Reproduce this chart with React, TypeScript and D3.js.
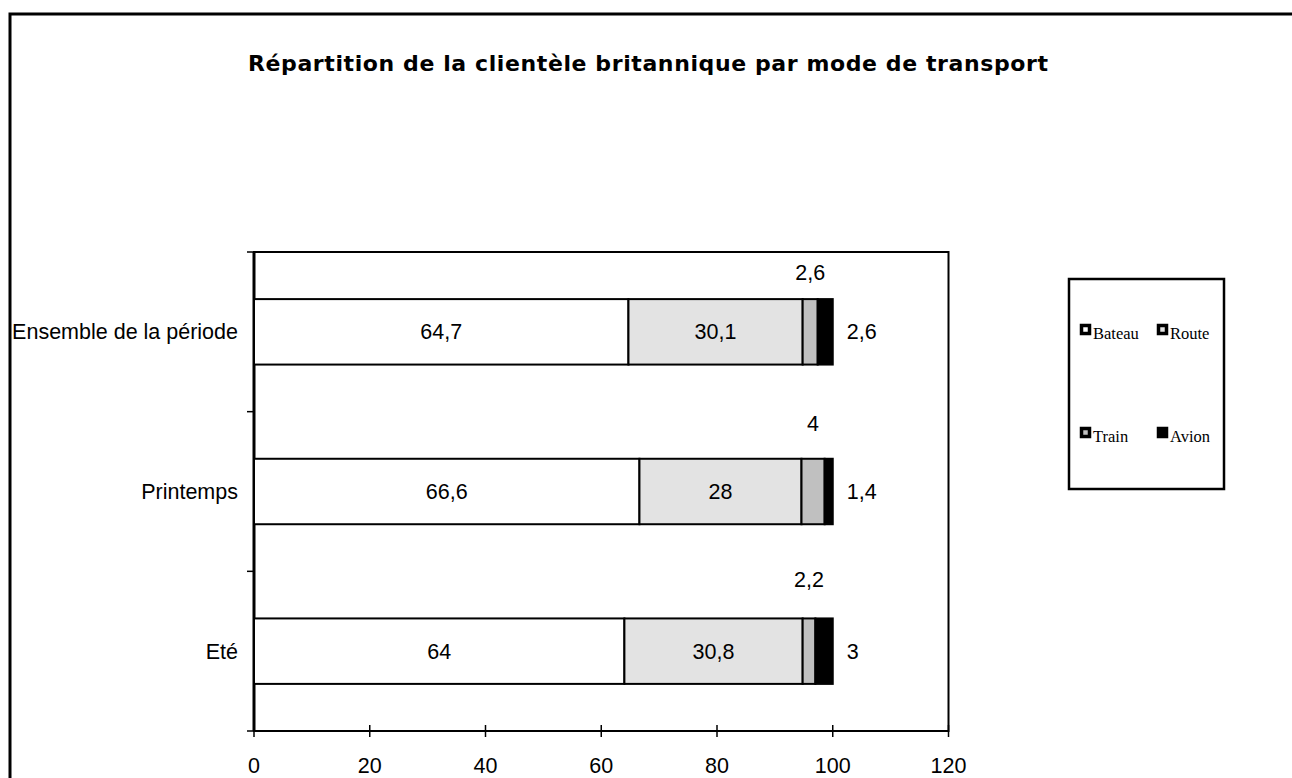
import React from "react";
import * as d3 from "d3";

const categories = ["Ensemble de la période", "Printemps", "Eté"];
const seriesNames = ["Bateau", "Route", "Train", "Avion"];
const bateau = [64.7, 66.6, 64];
const route = [30.1, 28, 30.8];
const train = [2.6, 4, 2.2];
const avion = [2.6, 1.4, 3];
const xTicks = [0, 20, 40, 60, 80, 100, 120];
const colors = ["#ffffff", "#e3e3e3", "#c0c0c0", "#000000"];
const title = "Répartition de la clientèle britannique par mode de transport";

const fmt = (v: number) => String(v).replace(".", ",");

export default function App() {
  const W = 1292, H = 778;
  const left = 254, right = 948.5, top = 252, bottom = 731;
  const x = d3.scaleLinear().domain([0, 120]).range([left, right]);
  const y = d3.scaleBand<string>().domain(categories).range([top, bottom]).paddingInner(0.59).paddingOuter(0.295);
  const step = y.step();
  const values = [bateau, route, train, avion];
  const rows = categories.map((c, i) => {
    let acc = 0;
    const segs = values.map((arr, s) => {
      const x0 = acc;
      acc += arr[i];
      return { s, x0, x1: acc, v: arr[i] };
    });
    return { c, i, segs };
  });
  const trainDy = [-27, -35, -39];
  const bandEdges = d3.range(categories.length + 1).map((k) => top + k * step);
  const font = "'Liberation Sans', Arial, sans-serif";
  const fs = 21.5;

  return (
    <svg width={W} height={H} style={{ position: "absolute", left: 0, top: 0, display: "block", background: "#fff" }}>
      <rect x={10} y={14} width={1400} height={900} fill="#fff" stroke="#000" strokeWidth={3} />
      <text x={648} y={71} textAnchor="middle" fontFamily="'DejaVu Sans', sans-serif" fontWeight="bold" fontSize={22}
        textLength={800} lengthAdjust="spacing">{title}</text>

      <rect x={left} y={top} width={right - left} height={bottom - top} fill="none" stroke="#000" strokeWidth={2} />
      <line x1={left} x2={left} y1={top} y2={bottom} stroke="#000" strokeWidth={3} />

      {bandEdges.map((yy, k) => (
        <line key={"yt" + k} x1={247} x2={left} y1={yy} y2={yy} stroke="#000" strokeWidth={1.5} />
      ))}
      {xTicks.map((t) => (
        <g key={"xt" + t}>
          <line x1={x(t)} x2={x(t)} y1={bottom - 6} y2={bottom + 6} stroke="#000" strokeWidth={1.5} />
          <text x={x(t)} y={773} textAnchor="middle" fontFamily={font} fontSize={fs}>{t}</text>
        </g>
      ))}

      {rows.map((r) => {
        const by = y(r.c)!;
        const bh = y.bandwidth();
        const cy = by + bh / 2;
        return (
          <g key={r.c}>
            <text x={238} y={cy + 7.5} textAnchor="end" fontFamily={font} fontSize={fs}>{r.c}</text>
            {r.segs.map((sg) => (
              <rect key={sg.s} x={x(sg.x0)} y={by} width={x(sg.x1) - x(sg.x0)} height={bh}
                fill={colors[sg.s]} stroke="#000" strokeWidth={2} />
            ))}
            {r.segs.map((sg) => {
              if (sg.s < 2) {
                return <text key={"l" + sg.s} x={(x(sg.x0) + x(sg.x1)) / 2} y={cy + 7.5} textAnchor="middle" fontFamily={font} fontSize={fs}>{fmt(sg.v)}</text>;
              } else if (sg.s === 2) {
                return <text key={"l" + sg.s} x={(x(sg.x0) + x(sg.x1)) / 2} y={by + trainDy[r.i] + 7.5} textAnchor="middle" fontFamily={font} fontSize={fs}>{fmt(sg.v)}</text>;
              }
              return <text key={"l" + sg.s} x={x(sg.x1) + 14} y={cy + 7.5} textAnchor="start" fontFamily={font} fontSize={fs}>{fmt(sg.v)}</text>;
            })}
          </g>
        );
      })}

      <rect x={1069} y={279} width={155} height={210} fill="#fff" stroke="#000" strokeWidth={2.5} />
      {seriesNames.map((n, k) => {
        const col = k % 2, row = Math.floor(k / 2);
        const sx = 1081.5 + col * 77;
        const sy = 325.5 + row * 103;
        return (
          <g key={n}>
            <rect x={sx} y={sy} width={8} height={8} fill={colors[k]} stroke="#000" strokeWidth={3.5} />
            <text x={sx + 11.5} y={sy + 13.5} fontFamily="'Liberation Serif', 'Times New Roman', serif" fontSize={16.5}>{n}</text>
          </g>
        );
      })}
    </svg>
  );
}
